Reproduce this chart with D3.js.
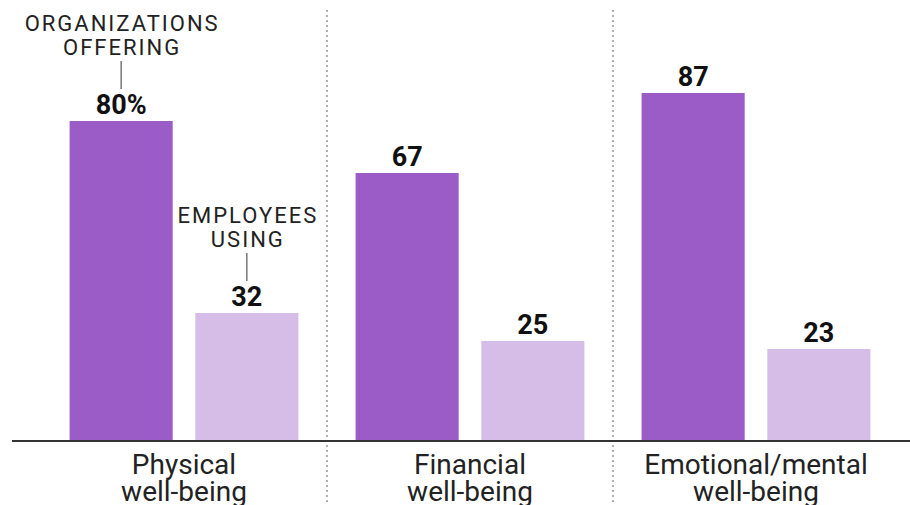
<html>
<head>
<script src="https://d3js.org/d3.v7.min.js" charset="utf-8"></script>
<style>
body { margin: 0; background: #fff; font-family: Roboto, sans-serif; }
</style>
</head>
<body>
<div id="canvas"></div>
<script>
// data
var categories = ["Physical\nwell-being", "Financial\nwell-being", "Emotional/mental\nwell-being"];
var series = ["offering", "using"];
var offering = [80, 67, 87];
var using = [32, 25, 23];
var valueLabels = [["80%", "32"], ["67", "25"], ["87", "23"]];

var W = 910, H = 505, base = 441;
var svg = d3.select("#canvas").append("svg").attr("width", W).attr("height", H);

var x = d3.scaleBand().domain(categories).range([41, 899]).paddingInner(0.2).paddingOuter(0.1);
var xs = d3.scaleBand().domain(series).range([0, x.bandwidth()]).paddingInner(0.18);
var y = d3.scaleLinear().domain([0, 100]).range([base, 41]);
var color = d3.scaleOrdinal().domain(series).range(["#9b5cc7", "#d6bde8"]);

// dotted dividers between groups
var step = x.step();
svg.selectAll("line.div").data(categories.slice(1)).enter().append("line")
	.attr("x1", d => x(d) - (step - x.bandwidth()) / 2)
	.attr("x2", d => x(d) - (step - x.bandwidth()) / 2)
	.attr("y1", 10).attr("y2", H)
	.attr("stroke", "#999").attr("stroke-width", 1.5)
	.attr("stroke-dasharray", "2,3");

var g = svg.selectAll("g.grp").data(categories).enter().append("g")
	.attr("transform", d => "translate(" + x(d) + ",0)");

g.each(function(c, i) {
	var vals = [offering[i], using[i]];
	var gg = d3.select(this);
	gg.selectAll("rect").data(series).enter().append("rect")
		.attr("x", s => xs(s))
		.attr("width", xs.bandwidth())
		.attr("y", (s, j) => y(vals[j]))
		.attr("height", (s, j) => base - y(vals[j]))
		.attr("fill", s => color(s));
	gg.selectAll("text.val").data(series).enter().append("text")
		.attr("class", "val")
		.attr("x", s => xs(s) + xs.bandwidth() / 2)
		.attr("y", (s, j) => y(vals[j]) - 7)
		.attr("text-anchor", "middle")
		.attr("font-weight", "bold")
		.attr("font-size", 27)
		.attr("fill", "#111")
		.text((s, j) => valueLabels[i][j]);
	// category label
	var t = gg.append("text")
		.attr("x", x.bandwidth() / 2)
		.attr("text-anchor", "middle")
		.attr("font-size", 28)
		.attr("fill", "#222");
	c.split("\n").forEach(function(l, k) {
		t.append("tspan").attr("x", x.bandwidth() / 2).attr("y", 474 + k * 27).text(l);
	});
});

// baseline
svg.append("line").attr("x1", 12).attr("x2", W).attr("y1", base).attr("y2", base)
	.attr("stroke", "#333").attr("stroke-width", 2);

// annotations
function annotate(cat, s, lines, val) {
	var cx = x(cat) + xs(s) + xs.bandwidth() / 2;
	var top = y(val) - 7 - 19;
	var ly2 = top - 6;
	var ly1 = ly2 - 28;
	svg.append("line").attr("x1", cx).attr("x2", cx).attr("y1", ly1).attr("y2", ly2)
		.attr("stroke", "#555").attr("stroke-width", 1.2);
	var t = svg.append("text").attr("text-anchor", "middle").attr("font-size", 22)
		.attr("letter-spacing", 2).attr("fill", "#222");
	lines.forEach(function(l, k) {
		t.append("tspan").attr("x", cx + 1).attr("y", ly1 - 6 - (lines.length - 1 - k) * 24).text(l);
	});
}
annotate(categories[0], "offering", ["ORGANIZATIONS", "OFFERING"], offering[0]);
annotate(categories[0], "using", ["EMPLOYEES", "USING"], using[0]);
</script>
</body>
</html>
